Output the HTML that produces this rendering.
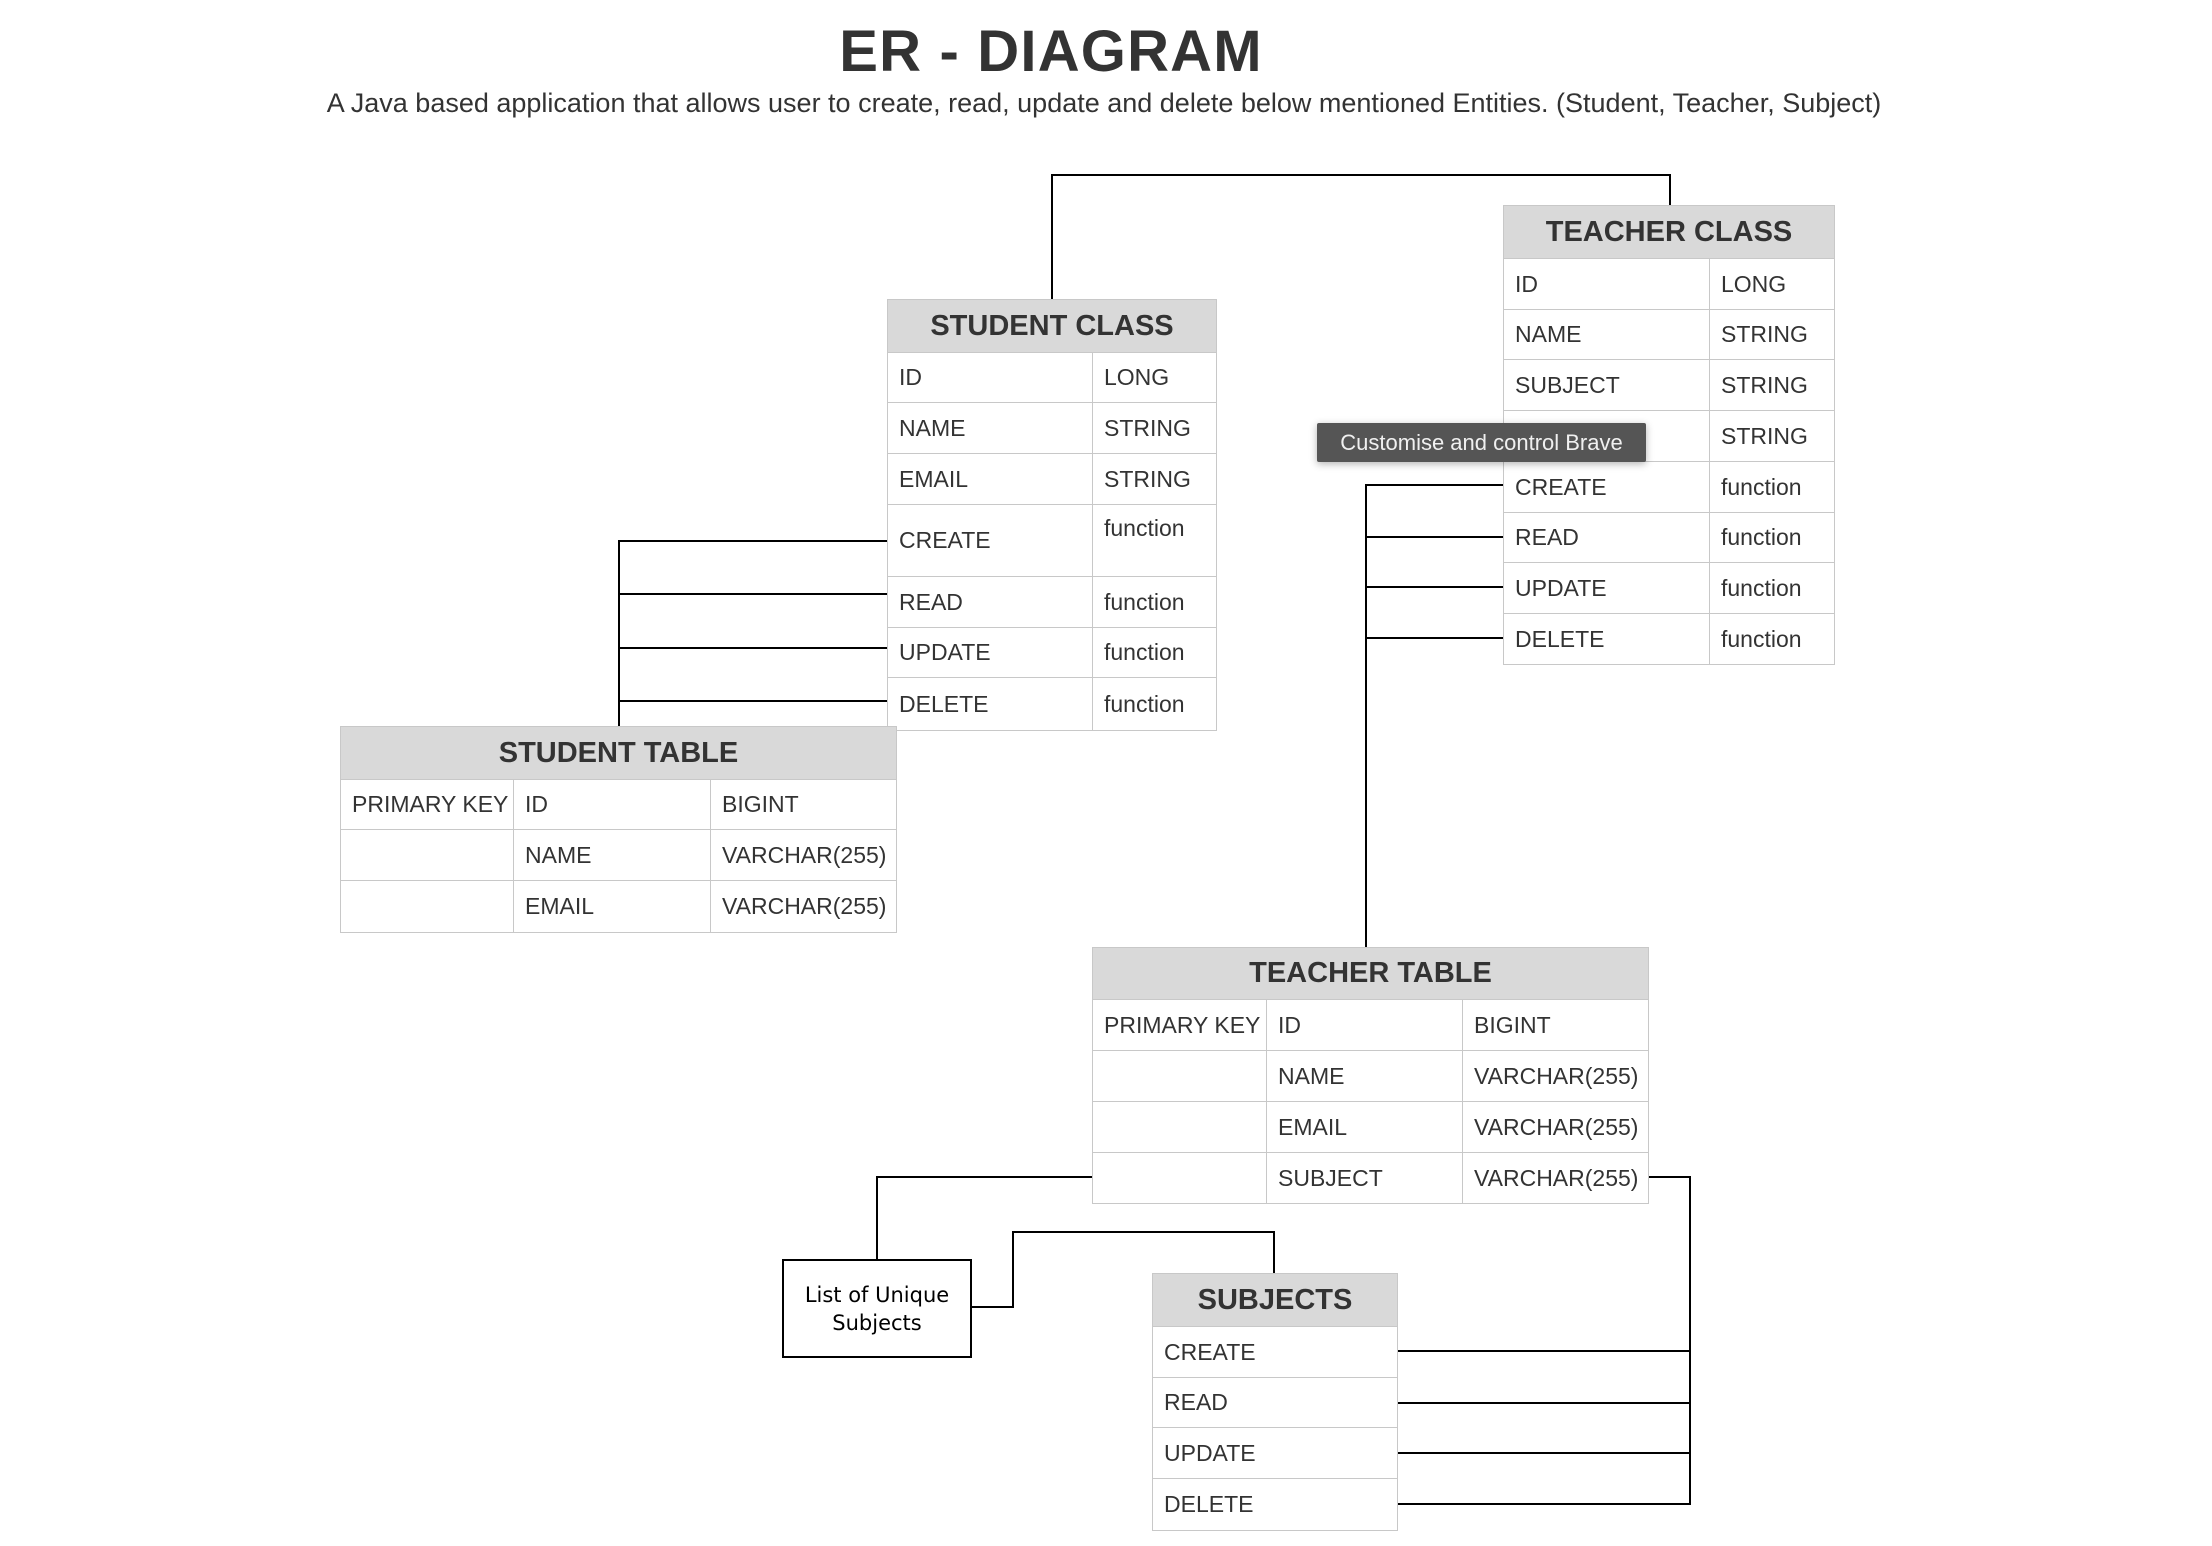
<!DOCTYPE html>
<html><head><meta charset="utf-8"><style>
html,body{margin:0;padding:0;background:#fff;width:2212px;height:1546px;overflow:hidden;position:relative;font-family:"Liberation Sans",Arial,sans-serif;color:#333}
.c{position:absolute;box-sizing:border-box;border:1.5px solid #c8c8c8;font-size:23px;padding-left:11px;display:flex;align-items:center;white-space:nowrap;background:#fff}
.h{position:absolute;box-sizing:border-box;border:1.5px solid #c8c8c8;background:#d9d9d9;font-weight:bold;font-size:29px;display:flex;align-items:center;justify-content:center;color:#333}
.t{position:absolute;white-space:nowrap}
</style></head><body>
<div class="t" style="left:-2px;width:2106px;text-align:center;top:18px;font-size:58px;font-weight:bold;letter-spacing:1.2px;color:#333">ER - DIAGRAM</div>
<div class="t" style="left:-4px;width:2216px;text-align:center;top:88px;font-size:27px;color:#333">A Java based application that allows user to create, read, update and delete below mentioned Entities. (Student, Teacher, Subject)</div>

<svg width="2212" height="1546" style="position:absolute;left:0;top:0" fill="none" stroke="#000" stroke-width="2">
<polyline points="1052,299 1052,175 1670,175 1670,205"/>
<polyline points="887,541 619,541 619,726"/>
<line x1="619" y1="594" x2="887" y2="594"/>
<line x1="619" y1="648" x2="887" y2="648"/>
<line x1="619" y1="701" x2="887" y2="701"/>
<polyline points="1503,485 1366,485 1366,947"/>
<line x1="1366" y1="537" x2="1503" y2="537"/>
<line x1="1366" y1="587" x2="1503" y2="587"/>
<line x1="1366" y1="638" x2="1503" y2="638"/>
<polyline points="1093,1177 877,1177 877,1259"/>
<polyline points="971,1307 1013,1307 1013,1232 1274,1232 1274,1273"/>
<polyline points="1649,1177 1690,1177 1690,1504 1397,1504"/>
<line x1="1397" y1="1351" x2="1690" y2="1351"/>
<line x1="1397" y1="1403" x2="1690" y2="1403"/>
<line x1="1397" y1="1453" x2="1690" y2="1453"/>
</svg>

<div id="root"></div>
<div style="position:absolute;left:782px;top:1259px;width:190px;height:99px;box-sizing:border-box;border:2px solid #000;background:#fff;font-family:'DejaVu Sans',sans-serif;font-size:21px;color:#000;text-align:center;line-height:28px;padding-top:20px">List of Unique<br>Subjects</div>

<div style="position:absolute;left:1317px;top:423px;width:329px;height:39px;background:#555;color:#f0f0f0;font-size:22px;display:flex;align-items:center;justify-content:center;box-shadow:0 2px 8px rgba(0,0,0,.3);border-radius:2px">Customise and control Brave</div>

<script>
var R=document.getElementById('root');
function cell(x,y,w,h,txt,top){var d=document.createElement('div');d.className='c';d.style.cssText='left:'+x+'px;top:'+y+'px;width:'+w+'px;height:'+h+'px;'+(top?'align-items:flex-start;padding-top:10px;':'');d.textContent=txt;R.appendChild(d);}
function head(x,y,w,h,txt){var d=document.createElement('div');d.className='h';d.style.cssText='left:'+x+'px;top:'+y+'px;width:'+w+'px;height:'+h+'px;';d.textContent=txt;R.appendChild(d);}
head(887,299,330,54,'STUDENT CLASS');
var sy=[352,402,453,504,576,627,677,730],sl=['ID','NAME','EMAIL','CREATE','READ','UPDATE','DELETE'],st=['LONG','STRING','STRING','function','function','function','function'];
for(var i=0;i<7;i++){cell(887,sy[i],206,sy[i+1]-sy[i]+1,sl[i]);cell(1092,sy[i],125,sy[i+1]-sy[i]+1,st[i],i==3);}
head(1503,205,332,54,'TEACHER CLASS');
var ty=[258,309,359,410,461,512,562,613,664],tl=['ID','NAME','SUBJECT','EMAIL','CREATE','READ','UPDATE','DELETE'],tt=['LONG','STRING','STRING','STRING','function','function','function','function'];
for(var i=0;i<8;i++){cell(1503,ty[i],207,ty[i+1]-ty[i]+1,tl[i]);cell(1709,ty[i],126,ty[i+1]-ty[i]+1,tt[i]);}
head(340,726,557,54,'STUDENT TABLE');
var ry=[779,829,880,932],a=['PRIMARY KEY','',''],b=['ID','NAME','EMAIL'],c=['BIGINT','VARCHAR(255)','VARCHAR(255)'];
for(var i=0;i<3;i++){cell(340,ry[i],174,ry[i+1]-ry[i]+1,a[i]);cell(513,ry[i],198,ry[i+1]-ry[i]+1,b[i]);cell(710,ry[i],187,ry[i+1]-ry[i]+1,c[i]);}
head(1092,947,557,53,'TEACHER TABLE');
var qy=[999,1050,1101,1152,1203],a2=['PRIMARY KEY','','',''],b2=['ID','NAME','EMAIL','SUBJECT'],c2=['BIGINT','VARCHAR(255)','VARCHAR(255)','VARCHAR(255)'];
for(var i=0;i<4;i++){cell(1092,qy[i],175,qy[i+1]-qy[i]+1,a2[i]);cell(1266,qy[i],197,qy[i+1]-qy[i]+1,b2[i]);cell(1462,qy[i],187,qy[i+1]-qy[i]+1,c2[i]);}
head(1152,1273,246,54,'SUBJECTS');
var uy=[1326,1377,1427,1478,1530],ul=['CREATE','READ','UPDATE','DELETE'];
for(var i=0;i<4;i++){cell(1152,uy[i],246,uy[i+1]-uy[i]+1,ul[i]);}
</script>
</body></html>
